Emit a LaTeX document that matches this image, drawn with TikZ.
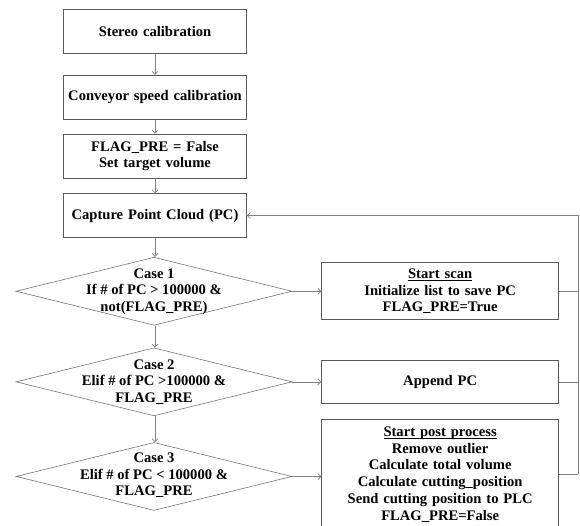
\documentclass[tikz,border=0pt]{standalone}
\usepackage{fontspec}
\setmainfont{Liberation Serif}
\usepackage{xcolor}
\usetikzlibrary{arrows.meta, positioning, shapes.geometric}
\newcommand{\headline}[1]{\underline{\raisebox{0pt}[\height][0pt]{#1}}}

\begin{document}
\begin{tikzpicture}[
        x=1pt, y=-1pt,
        >={Straight Barb[length=3pt, width=6pt]},
        node distance=14pt,
        block/.style={draw=black!65, rectangle, line width=0.7pt, text width=178pt,
            align=center, minimum width=183pt, minimum height=44pt, inner sep=0pt,
            font=\fontsize{14.6}{16.7}\selectfont\bfseries},
        decision/.style={draw=black!55, diamond, line width=0.6pt,
            minimum width=276pt, minimum height=68pt, inner sep=0pt},
        cond/.style={align=center, font=\fontsize{14.6}{16.5}\selectfont\bfseries},
        action/.style={block, text width=232pt, minimum width=237pt},
        line/.style={draw, black!50, line width=0.7pt, ->},
        back/.style={draw, black!50, line width=0.7pt},
    ]
        \useasboundingbox (0,0) rectangle (580,526);

        \node[block] (s1) at (155,31.5) {Stereo calibration};
        \node[block, below=21pt of s1] (s2) {Conveyor speed calibration};
        \node[block, below=of s2] (s3) {FLAG\_PRE = False\\Set target volume};
        \node[block, below=15pt of s3] (s4) {Capture Point Cloud (PC)};

        \node[decision, below=19pt of s4.south, anchor=north, xshift=-1pt] (d1) {};
        \node[decision, below=22pt of d1] (d2) {};
        \node[decision, below=26pt of d2] (d3) {};
        \node[cond] (c1) at (d1) {Case 1\\If \# of PC > 100000 \&\\not(FLAG\_PRE)};
        \node[cond] (c2) at (d2) {Case 2\\Elif \# of PC >100000 \&\\FLAG\_PRE};
        \node[cond] (c3) at ([yshift=1pt]d3) {Case 3\\Elif \# of PC < 100000 \&\\FLAG\_PRE};

        \node[action, minimum height=57pt, right=29pt of d1] (a1)
            {\headline{Start scan}\\Initialize list to save PC\\FLAG\_PRE=True};
        \node[action, minimum height=43pt, right=29pt of d2] (a2) {Append PC};
        \node[action, minimum height=111pt, right=29pt of d3, yshift=2pt] (a3)
            {\headline{Start post process}\\Remove outlier\\Calculate total volume\\
             Calculate cutting\_position\\Send cutting position to PLC\\FLAG\_PRE=False};

        \foreach \i/\j in {s1/s2, s2/s3, s3/s4, s4/d1, d1/d2, d2/d3}
            \path[line] (\i.south -| s1) -- (\j.north -| s1);
        \foreach \i/\j in {d1/a1, d2/a2}
            \path[line] (\i.east) -- (\j.west);
        \path[line] (d3.east) -- (a3.west |- d3.east);

        % loop back to capture
        \coordinate (rt) at (578,0 |- s4.east);
        \path[back] (a1.east) -- (a1.east -| rt);
        \path[back] (a2.east) -- (a2.east -| rt);
        \path[back] (a3.east) -- (a3.east -| rt);
        \path[line] (a3.east -| rt) -- (rt) -- (s4.east);
    \end{tikzpicture}
\end{document}
